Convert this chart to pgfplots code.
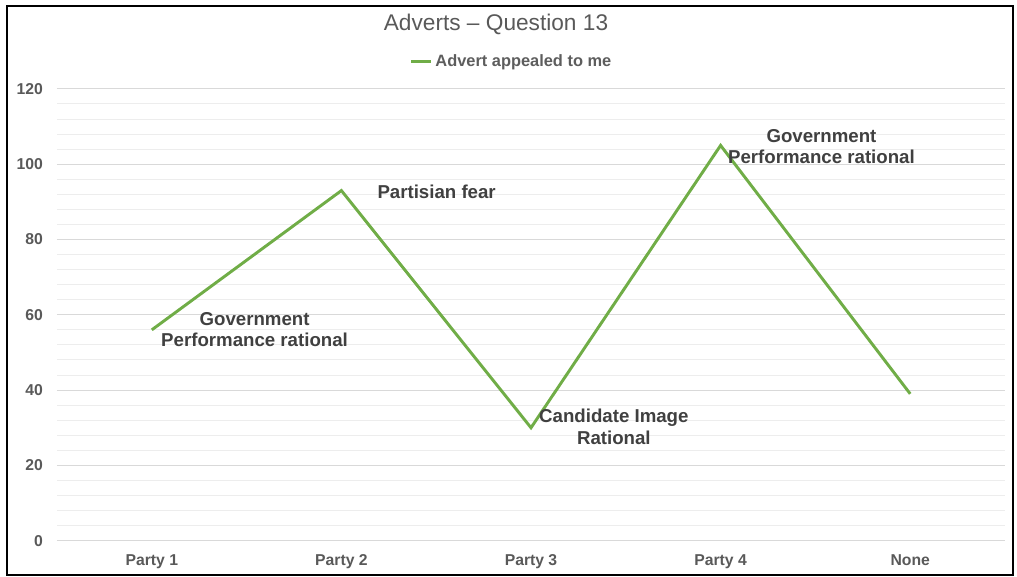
\documentclass[border=0pt]{standalone}
\usepackage{pgfplots}
\pgfplotsset{compat=1.18}
\usepackage{fontspec}
\setmainfont{Liberation Sans}
\definecolor{linegreen}{HTML}{70AD47}
\definecolor{labelgray}{HTML}{595959}
\definecolor{notegray}{HTML}{404040}
\definecolor{majorgrid}{HTML}{D9D9D9}
\definecolor{minorgrid}{HTML}{EDEDED}
\begin{document}
\begin{tikzpicture}
% page area and outer frame
\useasboundingbox (0pt,0pt) rectangle (762.75pt,432pt);
\draw[line width=1.6pt, black] (5.25pt,0.75pt) rectangle (759.75pt,427.5pt);
\node[text=labelgray, font=\fontsize{17}{20}\selectfont] at (372pt,414pt) {Adverts – Question 13};
\begin{axis}[
  at={(42.75pt,26.5pt)}, anchor=south west,
  scale only axis,
  width=711pt, height=338.8pt,
  xmin=-0.5, xmax=4.5,
  ymin=0, ymax=120,
  xtick={0,1,2,3,4},
  xticklabels={Party 1, Party 2, Party 3, Party 4, None},
  ytick={0,20,...,120},
  minor y tick num=4,
  ymajorgrids, yminorgrids,
  major grid style={majorgrid, line width=0.75pt},
  minor grid style={minorgrid, line width=0.75pt},
  axis line style={draw=none},
  major tick length=0pt, minor tick length=0pt,
  tick style={draw=none},
  /pgf/number format/assume math mode=true,
  ticklabel style={text=labelgray, font=\fontsize{11.8}{14}\selectfont\bfseries},
  yticklabel style={xshift=-7pt},
  xticklabel style={yshift=-6.5pt, text height=1.6ex, text depth=0.45ex},
  legend style={draw=none, fill=none, at={(0.48,1.06)}, anchor=center,
    font=\fontsize{12.3}{14}\selectfont\bfseries, text=notegray!85!white,
    inner sep=0pt, /tikz/every even column/.append style={column sep=0pt}},
  legend image code/.code={\draw[#1, line width=2pt] (0pt,0pt) -- (15pt,0pt);},
  clip=false,
]
\addplot[linegreen, line width=2.2pt, no marks] coordinates {
  (0,56) (1,93) (2,30) (3,105) (4,39)
};
\addlegendentry{Advert appealed to me}
\node[align=center, text=notegray, font=\fontsize{14}{16}\selectfont\bfseries]
  at (axis cs:0.542,56) {Government\\Performance rational};
\node[anchor=west, text=notegray, font=\fontsize{14}{16}\selectfont\bfseries, inner sep=0pt]
  at (axis cs:1.189,92.6) {Partisian fear};
\node[align=center, text=notegray, font=\fontsize{14}{16}\selectfont\bfseries]
  at (axis cs:2.437,30.2) {Candidate Image\\Rational};
\node[align=center, text=notegray, font=\fontsize{14}{16}\selectfont\bfseries]
  at (axis cs:3.532,104.6) {Government\\Performance rational};
\end{axis}
\end{tikzpicture}
\end{document}
